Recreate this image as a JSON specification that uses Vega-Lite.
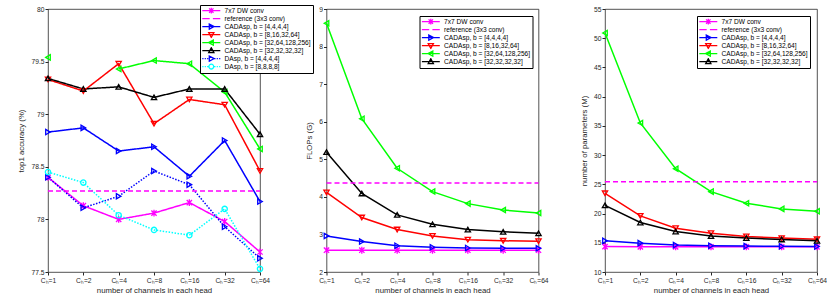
{
  "$schema": "https://vega.github.io/schema/vega-lite/v6.json",
  "padding": {"left": 17, "top": 4, "right": 0, "bottom": 0},
  "spacing": 66.5,
  "bounds": "flush",
  "datasets": {
    "acc": [
      {"series": "7x7 DW conv", "ch": "Cₕ=1", "value": 78.40},
      {"series": "7x7 DW conv", "ch": "Cₕ=2", "value": 78.13},
      {"series": "7x7 DW conv", "ch": "Cₕ=4", "value": 78.00},
      {"series": "7x7 DW conv", "ch": "Cₕ=8", "value": 78.06},
      {"series": "7x7 DW conv", "ch": "Cₕ=16", "value": 78.16},
      {"series": "7x7 DW conv", "ch": "Cₕ=32", "value": 77.98},
      {"series": "7x7 DW conv", "ch": "Cₕ=64", "value": 77.69},
      {"series": "CADAsp, b = [4,4,4,4]", "ch": "Cₕ=1", "value": 78.83},
      {"series": "CADAsp, b = [4,4,4,4]", "ch": "Cₕ=2", "value": 78.87},
      {"series": "CADAsp, b = [4,4,4,4]", "ch": "Cₕ=4", "value": 78.65},
      {"series": "CADAsp, b = [4,4,4,4]", "ch": "Cₕ=8", "value": 78.69},
      {"series": "CADAsp, b = [4,4,4,4]", "ch": "Cₕ=16", "value": 78.41},
      {"series": "CADAsp, b = [4,4,4,4]", "ch": "Cₕ=32", "value": 78.75},
      {"series": "CADAsp, b = [4,4,4,4]", "ch": "Cₕ=64", "value": 78.17},
      {"series": "CADAsp, b = [8,16,32,64]", "ch": "Cₕ=1", "value": 79.33},
      {"series": "CADAsp, b = [8,16,32,64]", "ch": "Cₕ=2", "value": 79.22},
      {"series": "CADAsp, b = [8,16,32,64]", "ch": "Cₕ=4", "value": 79.48},
      {"series": "CADAsp, b = [8,16,32,64]", "ch": "Cₕ=8", "value": 78.91},
      {"series": "CADAsp, b = [8,16,32,64]", "ch": "Cₕ=16", "value": 79.14},
      {"series": "CADAsp, b = [8,16,32,64]", "ch": "Cₕ=32", "value": 79.09},
      {"series": "CADAsp, b = [8,16,32,64]", "ch": "Cₕ=64", "value": 78.46},
      {"series": "CADAsp, b = [32,64,128,256]", "ch": "Cₕ=1", "value": 79.54},
      {"series": "CADAsp, b = [32,64,128,256]", "ch": "Cₕ=2", "value": null},
      {"series": "CADAsp, b = [32,64,128,256]", "ch": "Cₕ=4", "value": 79.43},
      {"series": "CADAsp, b = [32,64,128,256]", "ch": "Cₕ=8", "value": 79.51},
      {"series": "CADAsp, b = [32,64,128,256]", "ch": "Cₕ=16", "value": 79.48},
      {"series": "CADAsp, b = [32,64,128,256]", "ch": "Cₕ=32", "value": 79.21},
      {"series": "CADAsp, b = [32,64,128,256]", "ch": "Cₕ=64", "value": 78.67},
      {"series": "CADAsp, b = [32,32,32,32]", "ch": "Cₕ=1", "value": 79.34},
      {"series": "CADAsp, b = [32,32,32,32]", "ch": "Cₕ=2", "value": 79.24},
      {"series": "CADAsp, b = [32,32,32,32]", "ch": "Cₕ=4", "value": 79.26},
      {"series": "CADAsp, b = [32,32,32,32]", "ch": "Cₕ=8", "value": 79.16},
      {"series": "CADAsp, b = [32,32,32,32]", "ch": "Cₕ=16", "value": 79.24},
      {"series": "CADAsp, b = [32,32,32,32]", "ch": "Cₕ=32", "value": 79.24},
      {"series": "CADAsp, b = [32,32,32,32]", "ch": "Cₕ=64", "value": 78.81},
      {"series": "DAsp, b = [4,4,4,4]", "ch": "Cₕ=1", "value": 78.40},
      {"series": "DAsp, b = [4,4,4,4]", "ch": "Cₕ=2", "value": 78.11},
      {"series": "DAsp, b = [4,4,4,4]", "ch": "Cₕ=4", "value": 78.22},
      {"series": "DAsp, b = [4,4,4,4]", "ch": "Cₕ=8", "value": 78.46},
      {"series": "DAsp, b = [4,4,4,4]", "ch": "Cₕ=16", "value": 78.33},
      {"series": "DAsp, b = [4,4,4,4]", "ch": "Cₕ=32", "value": 77.93},
      {"series": "DAsp, b = [4,4,4,4]", "ch": "Cₕ=64", "value": 77.63},
      {"series": "DAsp, b = [8,8,8,8]", "ch": "Cₕ=1", "value": 78.45},
      {"series": "DAsp, b = [8,8,8,8]", "ch": "Cₕ=2", "value": 78.35},
      {"series": "DAsp, b = [8,8,8,8]", "ch": "Cₕ=4", "value": 78.04},
      {"series": "DAsp, b = [8,8,8,8]", "ch": "Cₕ=8", "value": 77.90},
      {"series": "DAsp, b = [8,8,8,8]", "ch": "Cₕ=16", "value": 77.85},
      {"series": "DAsp, b = [8,8,8,8]", "ch": "Cₕ=32", "value": 78.10},
      {"series": "DAsp, b = [8,8,8,8]", "ch": "Cₕ=64", "value": 77.53}
    ],
    "flops": [
      {"series": "7x7 DW conv", "ch": "Cₕ=1", "value": 2.58},
      {"series": "7x7 DW conv", "ch": "Cₕ=2", "value": 2.58},
      {"series": "7x7 DW conv", "ch": "Cₕ=4", "value": 2.58},
      {"series": "7x7 DW conv", "ch": "Cₕ=8", "value": 2.58},
      {"series": "7x7 DW conv", "ch": "Cₕ=16", "value": 2.58},
      {"series": "7x7 DW conv", "ch": "Cₕ=32", "value": 2.58},
      {"series": "7x7 DW conv", "ch": "Cₕ=64", "value": 2.58},
      {"series": "CADAsp, b = [4,4,4,4]", "ch": "Cₕ=1", "value": 2.96},
      {"series": "CADAsp, b = [4,4,4,4]", "ch": "Cₕ=2", "value": 2.81},
      {"series": "CADAsp, b = [4,4,4,4]", "ch": "Cₕ=4", "value": 2.70},
      {"series": "CADAsp, b = [4,4,4,4]", "ch": "Cₕ=8", "value": 2.66},
      {"series": "CADAsp, b = [4,4,4,4]", "ch": "Cₕ=16", "value": 2.64},
      {"series": "CADAsp, b = [4,4,4,4]", "ch": "Cₕ=32", "value": 2.63},
      {"series": "CADAsp, b = [4,4,4,4]", "ch": "Cₕ=64", "value": 2.63},
      {"series": "CADAsp, b = [8,16,32,64]", "ch": "Cₕ=1", "value": 4.12},
      {"series": "CADAsp, b = [8,16,32,64]", "ch": "Cₕ=2", "value": 3.45},
      {"series": "CADAsp, b = [8,16,32,64]", "ch": "Cₕ=4", "value": 3.13},
      {"series": "CADAsp, b = [8,16,32,64]", "ch": "Cₕ=8", "value": 2.96},
      {"series": "CADAsp, b = [8,16,32,64]", "ch": "Cₕ=16", "value": 2.86},
      {"series": "CADAsp, b = [8,16,32,64]", "ch": "Cₕ=32", "value": 2.83},
      {"series": "CADAsp, b = [8,16,32,64]", "ch": "Cₕ=64", "value": 2.82},
      {"series": "CADAsp, b = [32,64,128,256]", "ch": "Cₕ=1", "value": 8.62},
      {"series": "CADAsp, b = [32,64,128,256]", "ch": "Cₕ=2", "value": 6.08},
      {"series": "CADAsp, b = [32,64,128,256]", "ch": "Cₕ=4", "value": 4.76},
      {"series": "CADAsp, b = [32,64,128,256]", "ch": "Cₕ=8", "value": 4.14},
      {"series": "CADAsp, b = [32,64,128,256]", "ch": "Cₕ=16", "value": 3.82},
      {"series": "CADAsp, b = [32,64,128,256]", "ch": "Cₕ=32", "value": 3.65},
      {"series": "CADAsp, b = [32,64,128,256]", "ch": "Cₕ=64", "value": 3.57},
      {"series": "CADAsp, b = [32,32,32,32]", "ch": "Cₕ=1", "value": 5.19},
      {"series": "CADAsp, b = [32,32,32,32]", "ch": "Cₕ=2", "value": 4.09},
      {"series": "CADAsp, b = [32,32,32,32]", "ch": "Cₕ=4", "value": 3.52},
      {"series": "CADAsp, b = [32,32,32,32]", "ch": "Cₕ=8", "value": 3.27},
      {"series": "CADAsp, b = [32,32,32,32]", "ch": "Cₕ=16", "value": 3.13},
      {"series": "CADAsp, b = [32,32,32,32]", "ch": "Cₕ=32", "value": 3.07},
      {"series": "CADAsp, b = [32,32,32,32]", "ch": "Cₕ=64", "value": 3.03}
    ],
    "params": [
      {"series": "7x7 DW conv", "ch": "Cₕ=1", "value": 14.35},
      {"series": "7x7 DW conv", "ch": "Cₕ=2", "value": 14.3},
      {"series": "7x7 DW conv", "ch": "Cₕ=4", "value": 14.3},
      {"series": "7x7 DW conv", "ch": "Cₕ=8", "value": 14.3},
      {"series": "7x7 DW conv", "ch": "Cₕ=16", "value": 14.3},
      {"series": "7x7 DW conv", "ch": "Cₕ=32", "value": 14.3},
      {"series": "7x7 DW conv", "ch": "Cₕ=64", "value": 14.3},
      {"series": "CADAsp, b = [4,4,4,4]", "ch": "Cₕ=1", "value": 15.34},
      {"series": "CADAsp, b = [4,4,4,4]", "ch": "Cₕ=2", "value": 14.94},
      {"series": "CADAsp, b = [4,4,4,4]", "ch": "Cₕ=4", "value": 14.6},
      {"series": "CADAsp, b = [4,4,4,4]", "ch": "Cₕ=8", "value": 14.49},
      {"series": "CADAsp, b = [4,4,4,4]", "ch": "Cₕ=16", "value": 14.43},
      {"series": "CADAsp, b = [4,4,4,4]", "ch": "Cₕ=32", "value": 14.4},
      {"series": "CADAsp, b = [4,4,4,4]", "ch": "Cₕ=64", "value": 14.35},
      {"series": "CADAsp, b = [8,16,32,64]", "ch": "Cₕ=1", "value": 23.47},
      {"series": "CADAsp, b = [8,16,32,64]", "ch": "Cₕ=2", "value": 19.6},
      {"series": "CADAsp, b = [8,16,32,64]", "ch": "Cₕ=4", "value": 17.5},
      {"series": "CADAsp, b = [8,16,32,64]", "ch": "Cₕ=8", "value": 16.65},
      {"series": "CADAsp, b = [8,16,32,64]", "ch": "Cₕ=16", "value": 16.08},
      {"series": "CADAsp, b = [8,16,32,64]", "ch": "Cₕ=32", "value": 15.8},
      {"series": "CADAsp, b = [8,16,32,64]", "ch": "Cₕ=64", "value": 15.6},
      {"series": "CADAsp, b = [32,64,128,256]", "ch": "Cₕ=1", "value": 50.9},
      {"series": "CADAsp, b = [32,64,128,256]", "ch": "Cₕ=2", "value": 35.5},
      {"series": "CADAsp, b = [32,64,128,256]", "ch": "Cₕ=4", "value": 27.67},
      {"series": "CADAsp, b = [32,64,128,256]", "ch": "Cₕ=8", "value": 23.75},
      {"series": "CADAsp, b = [32,64,128,256]", "ch": "Cₕ=16", "value": 21.76},
      {"series": "CADAsp, b = [32,64,128,256]", "ch": "Cₕ=32", "value": 20.8},
      {"series": "CADAsp, b = [32,64,128,256]", "ch": "Cₕ=64", "value": 20.4},
      {"series": "CADAsp, b = [32,32,32,32]", "ch": "Cₕ=1", "value": 21.4},
      {"series": "CADAsp, b = [32,32,32,32]", "ch": "Cₕ=2", "value": 18.47},
      {"series": "CADAsp, b = [32,32,32,32]", "ch": "Cₕ=4", "value": 16.93},
      {"series": "CADAsp, b = [32,32,32,32]", "ch": "Cₕ=8", "value": 16.14},
      {"series": "CADAsp, b = [32,32,32,32]", "ch": "Cₕ=16", "value": 15.8},
      {"series": "CADAsp, b = [32,32,32,32]", "ch": "Cₕ=32", "value": 15.57},
      {"series": "CADAsp, b = [32,32,32,32]", "ch": "Cₕ=64", "value": 15.34}
    ]
  },
  "hconcat": [
    {
      "width": 212, "height": 263,
      "data": {"name": "acc"},
      "encoding": {
        "x": {"field": "ch", "type": "ordinal", "sort": null, "scale": {"type": "point", "padding": 0, "domain": ["Cₕ=1", "Cₕ=2", "Cₕ=4", "Cₕ=8", "Cₕ=16", "Cₕ=32", "Cₕ=64"]}, "axis": {"title": "number of channels in each head", "labelOverlap": false}},
        "y": {"field": "value", "type": "quantitative", "scale": {"domain": [77.5, 80], "nice": false, "zero": false}, "axis": {"title": "top1 accuracy (%)", "values": [77.5, 78, 78.5, 79, 79.5, 80], "format": ".3~r", "labelOverlap": false}}
      },
      "layer": [
        {
          "mark": {"type": "line", "strokeWidth": 1.5, "invalid": "break-paths-show-domains"},
          "encoding": {
            "color": {"field": "series", "type": "nominal", "legend": null, "scale": {"domain": ["7x7 DW conv", "reference (3x3 conv)", "CADAsp, b = [4,4,4,4]", "CADAsp, b = [8,16,32,64]", "CADAsp, b = [32,64,128,256]", "CADAsp, b = [32,32,32,32]", "DAsp, b = [4,4,4,4]", "DAsp, b = [8,8,8,8]"], "range": ["#ff00ff", "#ff00ff", "#0000ff", "#ff0000", "#00ff00", "#000000", "#0000ff", "#00ffff"]}},
            "strokeDash": {"field": "series", "type": "nominal", "legend": null, "scale": {"domain": ["7x7 DW conv", "reference (3x3 conv)", "CADAsp, b = [4,4,4,4]", "CADAsp, b = [8,16,32,64]", "CADAsp, b = [32,64,128,256]", "CADAsp, b = [32,32,32,32]", "DAsp, b = [4,4,4,4]", "DAsp, b = [8,8,8,8]"], "range": [[1, 0], [5, 3], [1, 0], [1, 0], [1, 0], [1, 0], [1.5, 1.5], [1.5, 1.5]]}}
          }
        },
        {
          "mark": {"type": "point", "filled": false, "size": 28, "strokeWidth": 1.3, "opacity": 1},
          "encoding": {
            "color": {"field": "series", "type": "nominal", "legend": null, "scale": {"domain": ["7x7 DW conv", "reference (3x3 conv)", "CADAsp, b = [4,4,4,4]", "CADAsp, b = [8,16,32,64]", "CADAsp, b = [32,64,128,256]", "CADAsp, b = [32,32,32,32]", "DAsp, b = [4,4,4,4]", "DAsp, b = [8,8,8,8]"], "range": ["#ff00ff", "#ff00ff", "#0000ff", "#ff0000", "#00ff00", "#000000", "#0000ff", "#00ffff"]}},
            "shape": {"field": "series", "type": "nominal", "legend": null, "scale": {"domain": ["7x7 DW conv", "reference (3x3 conv)", "CADAsp, b = [4,4,4,4]", "CADAsp, b = [8,16,32,64]", "CADAsp, b = [32,64,128,256]", "CADAsp, b = [32,32,32,32]", "DAsp, b = [4,4,4,4]", "DAsp, b = [8,8,8,8]"], "range": ["M-1,-1L1,1M-1,1L1,-1M0,-1.3V1.3", "stroke", "triangle-right", "triangle-down", "triangle-left", "triangle-up", "triangle-right", "circle"]}}
          }
        },
        {
          "data": {"values": [{"series": "reference (3x3 conv)", "ch": "Cₕ=1", "ch_end": "Cₕ=64", "value": 78.27}]},
          "mark": {"type": "rule", "color": "#ff00ff", "strokeDash": [5, 3], "strokeWidth": 1.5},
          "encoding": {"x2": {"field": "ch_end"}}
        },
        {
          "mark": {"type": "point", "filled": false, "size": 16, "opacity": 0},
          "encoding": {
            "color": {"field": "series", "type": "nominal", "legend": {"orient": "none", "legendX": 152, "legendY": -4, "title": null, "symbolOpacity": 1}, "scale": {"domain": ["7x7 DW conv", "reference (3x3 conv)", "CADAsp, b = [4,4,4,4]", "CADAsp, b = [8,16,32,64]", "CADAsp, b = [32,64,128,256]", "CADAsp, b = [32,32,32,32]", "DAsp, b = [4,4,4,4]", "DAsp, b = [8,8,8,8]"], "range": ["#ff00ff", "#ff00ff", "#0000ff", "#ff0000", "#00ff00", "#000000", "#0000ff", "#00ffff"]}},
            "shape": {"field": "series", "type": "nominal", "legend": {"orient": "none", "legendX": 152, "legendY": -4, "title": null, "symbolOpacity": 1}, "scale": {"domain": ["7x7 DW conv", "reference (3x3 conv)", "CADAsp, b = [4,4,4,4]", "CADAsp, b = [8,16,32,64]", "CADAsp, b = [32,64,128,256]", "CADAsp, b = [32,32,32,32]", "DAsp, b = [4,4,4,4]", "DAsp, b = [8,8,8,8]"], "range": ["M-4.5,0H4.5M-1.1,-1.1L1.1,1.1M-1.1,1.1L1.1,-1.1M0,-1.4V1.4", "M-4.5,0H-0.8M0.8,0H4.5", "M-4.5,0H4.5M-1,-1.3L1.4,0L-1,1.3Z", "M-4.5,0H4.5M-1.3,-1L1.3,-1L0,1.4Z", "M-4.5,0H4.5M1,-1.3L-1.4,0L1,1.3Z", "M-4.5,0H4.5M-1.3,1L1.3,1L0,-1.4Z", "M-4.5,0H-3.9M-3.3,0H-2.7M-2.1,0H-1.5M1.5,0H2.1M2.7,0H3.3M3.9,0H4.5M-1,-1.3L1.4,0L-1,1.3Z", "M-4.5,0H-3.9M-3.3,0H-2.7M-2.1,0H-1.5M1.5,0H2.1M2.7,0H3.3M3.9,0H4.5M1.2,0A1.2,1.2,0,1,1,-1.2,0A1.2,1.2,0,1,1,1.2,0Z"]}}
          }
        }
      ],
      "resolve": {"scale": {"color": "independent", "shape": "independent", "strokeDash": "independent"}}
    },
    {
      "width": 212, "height": 263,
      "data": {"name": "flops"},
      "encoding": {
        "x": {"field": "ch", "type": "ordinal", "sort": null, "scale": {"type": "point", "padding": 0, "domain": ["Cₕ=1", "Cₕ=2", "Cₕ=4", "Cₕ=8", "Cₕ=16", "Cₕ=32", "Cₕ=64"]}, "axis": {"title": "number of channels in each head", "labelOverlap": false}},
        "y": {"field": "value", "type": "quantitative", "scale": {"domain": [2, 9], "nice": false, "zero": false}, "axis": {"title": "FLOPs (G)", "values": [2, 3, 4, 5, 6, 7, 8, 9], "format": "d", "labelOverlap": false}}
      },
      "layer": [
        {
          "mark": {"type": "line", "strokeWidth": 1.5},
          "encoding": {
            "color": {"field": "series", "type": "nominal", "legend": null, "scale": {"domain": ["7x7 DW conv", "reference (3x3 conv)", "CADAsp, b = [4,4,4,4]", "CADAsp, b = [8,16,32,64]", "CADAsp, b = [32,64,128,256]", "CADAsp, b = [32,32,32,32]"], "range": ["#ff00ff", "#ff00ff", "#0000ff", "#ff0000", "#00ff00", "#000000"]}}
          }
        },
        {
          "mark": {"type": "point", "filled": false, "size": 28, "strokeWidth": 1.3, "opacity": 1},
          "encoding": {
            "color": {"field": "series", "type": "nominal", "legend": null, "scale": {"domain": ["7x7 DW conv", "reference (3x3 conv)", "CADAsp, b = [4,4,4,4]", "CADAsp, b = [8,16,32,64]", "CADAsp, b = [32,64,128,256]", "CADAsp, b = [32,32,32,32]"], "range": ["#ff00ff", "#ff00ff", "#0000ff", "#ff0000", "#00ff00", "#000000"]}},
            "shape": {"field": "series", "type": "nominal", "legend": null, "scale": {"domain": ["7x7 DW conv", "reference (3x3 conv)", "CADAsp, b = [4,4,4,4]", "CADAsp, b = [8,16,32,64]", "CADAsp, b = [32,64,128,256]", "CADAsp, b = [32,32,32,32]"], "range": ["M-1,-1L1,1M-1,1L1,-1M0,-1.3V1.3", "stroke", "triangle-right", "triangle-down", "triangle-left", "triangle-up"]}}
          }
        },
        {
          "data": {"values": [{"series": "reference (3x3 conv)", "ch": "Cₕ=1", "ch_end": "Cₕ=64", "value": 4.37}]},
          "mark": {"type": "rule", "color": "#ff00ff", "strokeDash": [5, 3], "strokeWidth": 1.5},
          "encoding": {"x2": {"field": "ch_end"}}
        },
        {
          "mark": {"type": "point", "filled": false, "size": 16, "opacity": 0},
          "encoding": {
            "color": {"field": "series", "type": "nominal", "legend": {"orient": "none", "legendX": 93, "legendY": 7, "title": null, "symbolOpacity": 1}, "scale": {"domain": ["7x7 DW conv", "reference (3x3 conv)", "CADAsp, b = [4,4,4,4]", "CADAsp, b = [8,16,32,64]", "CADAsp, b = [32,64,128,256]", "CADAsp, b = [32,32,32,32]"], "range": ["#ff00ff", "#ff00ff", "#0000ff", "#ff0000", "#00ff00", "#000000"]}},
            "shape": {"field": "series", "type": "nominal", "legend": {"orient": "none", "legendX": 93, "legendY": 7, "title": null, "symbolOpacity": 1}, "scale": {"domain": ["7x7 DW conv", "reference (3x3 conv)", "CADAsp, b = [4,4,4,4]", "CADAsp, b = [8,16,32,64]", "CADAsp, b = [32,64,128,256]", "CADAsp, b = [32,32,32,32]"], "range": ["M-4.5,0H4.5M-1.1,-1.1L1.1,1.1M-1.1,1.1L1.1,-1.1M0,-1.4V1.4", "M-4.5,0H-0.8M0.8,0H4.5", "M-4.5,0H4.5M-1,-1.3L1.4,0L-1,1.3Z", "M-4.5,0H4.5M-1.3,-1L1.3,-1L0,1.4Z", "M-4.5,0H4.5M1,-1.3L-1.4,0L1,1.3Z", "M-4.5,0H4.5M-1.3,1L1.3,1L0,-1.4Z"]}}
          }
        }
      ],
      "resolve": {"scale": {"color": "independent", "shape": "independent"}}
    },
    {
      "width": 212, "height": 263,
      "data": {"name": "params"},
      "encoding": {
        "x": {"field": "ch", "type": "ordinal", "sort": null, "scale": {"type": "point", "padding": 0, "domain": ["Cₕ=1", "Cₕ=2", "Cₕ=4", "Cₕ=8", "Cₕ=16", "Cₕ=32", "Cₕ=64"]}, "axis": {"title": "number of channels in each head", "labelOverlap": false}},
        "y": {"field": "value", "type": "quantitative", "scale": {"domain": [10, 55], "nice": false, "zero": false}, "axis": {"title": "number of parameters (M)", "values": [10, 15, 20, 25, 30, 35, 40, 45, 50, 55], "format": "d", "labelOverlap": false}}
      },
      "layer": [
        {
          "mark": {"type": "line", "strokeWidth": 1.5},
          "encoding": {
            "color": {"field": "series", "type": "nominal", "legend": null, "scale": {"domain": ["7x7 DW conv", "reference (3x3 conv)", "CADAsp, b = [4,4,4,4]", "CADAsp, b = [8,16,32,64]", "CADAsp, b = [32,64,128,256]", "CADAsp, b = [32,32,32,32]"], "range": ["#ff00ff", "#ff00ff", "#0000ff", "#ff0000", "#00ff00", "#000000"]}}
          }
        },
        {
          "mark": {"type": "point", "filled": false, "size": 28, "strokeWidth": 1.3, "opacity": 1},
          "encoding": {
            "color": {"field": "series", "type": "nominal", "legend": null, "scale": {"domain": ["7x7 DW conv", "reference (3x3 conv)", "CADAsp, b = [4,4,4,4]", "CADAsp, b = [8,16,32,64]", "CADAsp, b = [32,64,128,256]", "CADAsp, b = [32,32,32,32]"], "range": ["#ff00ff", "#ff00ff", "#0000ff", "#ff0000", "#00ff00", "#000000"]}},
            "shape": {"field": "series", "type": "nominal", "legend": null, "scale": {"domain": ["7x7 DW conv", "reference (3x3 conv)", "CADAsp, b = [4,4,4,4]", "CADAsp, b = [8,16,32,64]", "CADAsp, b = [32,64,128,256]", "CADAsp, b = [32,32,32,32]"], "range": ["M-1,-1L1,1M-1,1L1,-1M0,-1.3V1.3", "stroke", "triangle-right", "triangle-down", "triangle-left", "triangle-up"]}}
          }
        },
        {
          "data": {"values": [{"series": "reference (3x3 conv)", "ch": "Cₕ=1", "ch_end": "Cₕ=64", "value": 25.45}]},
          "mark": {"type": "rule", "color": "#ff00ff", "strokeDash": [5, 3], "strokeWidth": 1.5},
          "encoding": {"x2": {"field": "ch_end"}}
        },
        {
          "mark": {"type": "point", "filled": false, "size": 16, "opacity": 0},
          "encoding": {
            "color": {"field": "series", "type": "nominal", "legend": {"orient": "none", "legendX": 92, "legendY": 7, "title": null, "symbolOpacity": 1}, "scale": {"domain": ["7x7 DW conv", "reference (3x3 conv)", "CADAsp, b = [4,4,4,4]", "CADAsp, b = [8,16,32,64]", "CADAsp, b = [32,64,128,256]", "CADAsp, b = [32,32,32,32]"], "range": ["#ff00ff", "#ff00ff", "#0000ff", "#ff0000", "#00ff00", "#000000"]}},
            "shape": {"field": "series", "type": "nominal", "legend": {"orient": "none", "legendX": 92, "legendY": 7, "title": null, "symbolOpacity": 1}, "scale": {"domain": ["7x7 DW conv", "reference (3x3 conv)", "CADAsp, b = [4,4,4,4]", "CADAsp, b = [8,16,32,64]", "CADAsp, b = [32,64,128,256]", "CADAsp, b = [32,32,32,32]"], "range": ["M-4.5,0H4.5M-1.1,-1.1L1.1,1.1M-1.1,1.1L1.1,-1.1M0,-1.4V1.4", "M-4.5,0H-0.8M0.8,0H4.5", "M-4.5,0H4.5M-1,-1.3L1.4,0L-1,1.3Z", "M-4.5,0H4.5M-1.3,-1L1.3,-1L0,1.4Z", "M-4.5,0H4.5M1,-1.3L-1.4,0L1,1.3Z", "M-4.5,0H4.5M-1.3,1L1.3,1L0,-1.4Z"]}}
          }
        }
      ],
      "resolve": {"scale": {"color": "independent", "shape": "independent"}}
    }
  ],
  "config": {
    "font": "Liberation Sans",
    "view": {"stroke": "#262626", "strokeWidth": 0.8},
    "axis": {"domain": false, "grid": false, "ticks": true, "tickSize": 3, "tickColor": "#262626", "labelColor": "#262626", "titleColor": "#262626", "labelFontSize": 6.7, "titleFontSize": 7.8, "titleFontWeight": "normal", "labelPadding": 1, "titlePadding": 5, "labelFont": "Liberation Sans", "titleFont": "Liberation Sans", "labelOverlap": false, "labelFlush": false, "labelBound": false},
    "axisY": {"labelOverlap": false},
    "axisQuantitative": {"labelOverlap": false},
    "axisX": {"labelAngle": 0, "labelPadding": 2, "titlePadding": 3},
    "legend": {"labelFontSize": 6.6, "labelFont": "Liberation Sans", "labelColor": "#000000", "symbolSize": 16, "symbolStrokeWidth": 1.3, "symbolOffset": 6, "labelOffset": 10, "clipHeight": 7.2, "rowPadding": 0, "padding": 2, "strokeColor": "#000000", "fillColor": "#ffffff", "cornerRadius": 0, "symbolOpacity": 1, "labelLimit": 200}
  }
}
